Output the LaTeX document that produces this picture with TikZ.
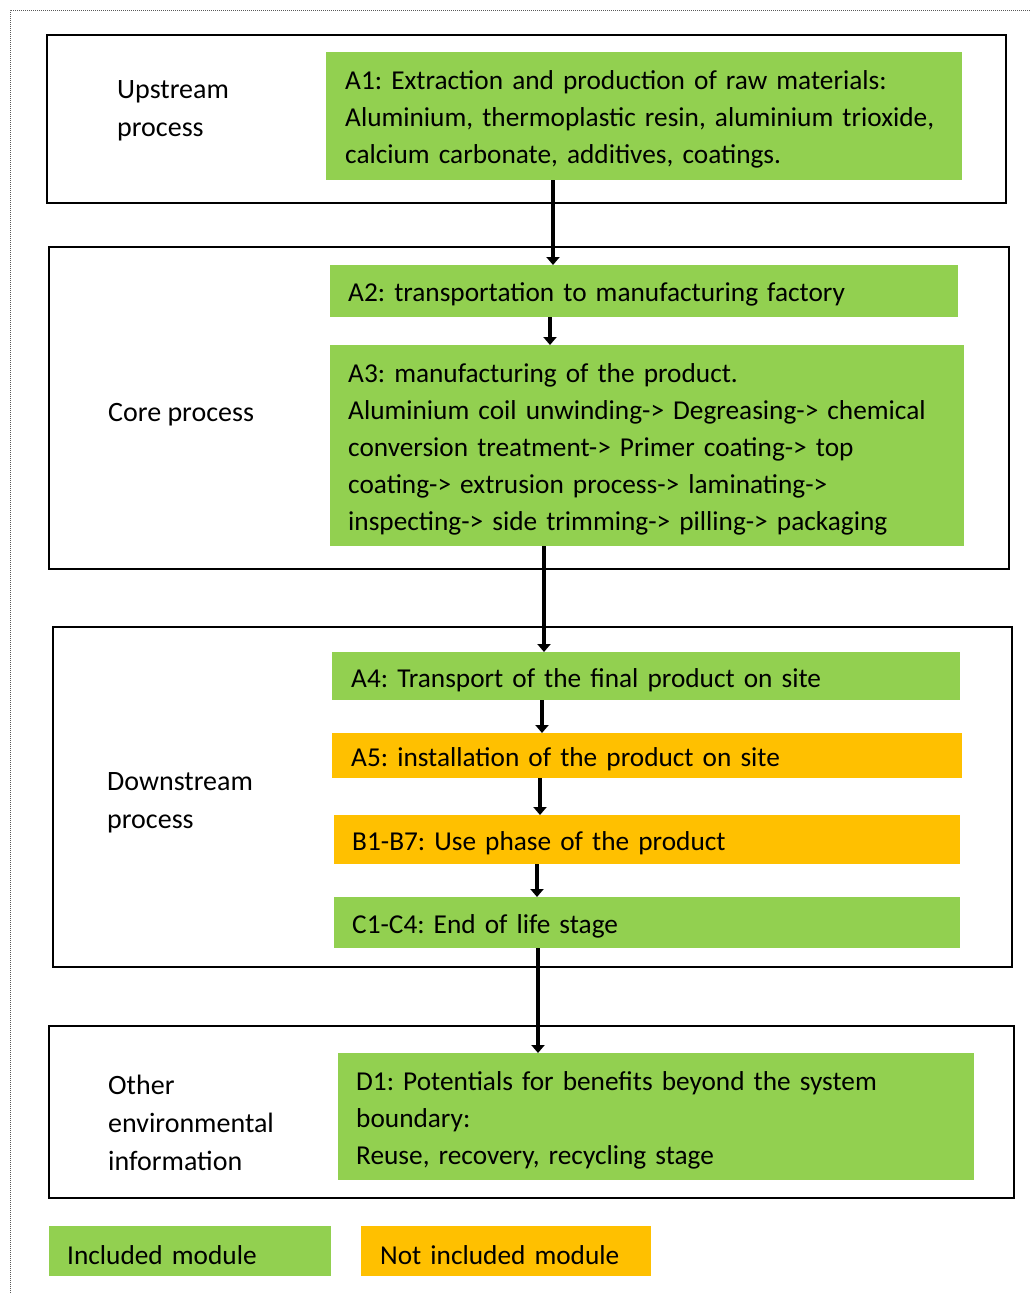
\documentclass[tikz,border=0pt]{standalone}
\usepackage{fontspec}
\setmainfont{Carlito}
\usetikzlibrary{arrows.meta}
\definecolor{incl}{HTML}{92D050}
\definecolor{notincl}{HTML}{FFC000}
\tikzset{
  frame/.style={draw=black, line width=1.5pt, anchor=north west, inner sep=0pt},
  modbox/.style={anchor=north west, inner xsep=19pt, inner ysep=0pt, align=left,
     font=\fontsize{27.3}{37}\selectfont, execute at begin node={\rule{0pt}{26pt}}},
  inclbox/.style={modbox, fill=incl},
  notbox/.style={modbox, fill=notincl},
  lbl/.style={anchor=west, align=left, inner sep=0pt, font=\fontsize{28}{38}\selectfont},
  arr/.style={line width=4.5pt, -{Triangle[width=13pt,length=8pt]}},
}
\begin{document}
\frenchspacing
\begin{tikzpicture}[x=1pt,y=-1pt]
\useasboundingbox (0,0) rectangle (1033,1293);
\draw[gray!70!black, densely dotted, line width=1pt] (10,1293) -- (10,10) -- (1030,10);
% frames
\node[frame, minimum width=959pt, minimum height=168pt] (F1) at (46,34) {};
\node[frame, minimum width=960pt, minimum height=322pt] (F2) at (48,246) {};
\node[frame, minimum width=959pt, minimum height=340pt] (F3) at (52,626) {};
\node[frame, minimum width=965pt, minimum height=172pt] (F4) at (48,1025) {};
% labels
\node[lbl] (L1) at (117,111) {Upstream\\process};
\node[lbl] (L2) at (108,415) {Core process};
\node[lbl] (L3) at (107,803) {Downstream\\process};
\node[lbl] (L4) at (108,1123) {Other\\environmental\\information};
% modules
\node[inclbox, minimum height=128pt, text width=598pt] (A1) at (326,52)
  {A1: Extraction and production of raw materials:\\Aluminium, thermoplastic resin, aluminium trioxide,\\calcium carbonate, additives, coatings.};
\node[inclbox, minimum height=52pt, text width=592pt, inner xsep=18pt] (A2) at (330,265)
  {A2: transportation to manufacturing factory};
\node[inclbox, minimum height=201pt, text width=598pt, inner xsep=18pt] (A3) at (330,345)
  {A3: manufacturing of the product.\\Aluminium coil unwinding-> Degreasing-> chemical\\conversion treatment-> Primer coating-> top\\coating-> extrusion process-> laminating->\\inspecting-> side trimming-> pilling-> packaging};
\node[inclbox, minimum height=48pt, text width=590pt] (A4) at (332,652)
  {A4: Transport of the final product on site};
\node[notbox, minimum height=45pt, text width=592pt] (A5) at (332,733)
  {A5: installation of the product on site};
\node[notbox, minimum height=49pt, text width=590pt, inner xsep=18pt] (B1) at (334,815)
  {B1-B7: Use phase of the product};
\node[inclbox, minimum height=51pt, text width=590pt, inner xsep=18pt] (C1) at (334,897)
  {C1-C4: End of life stage};
\node[inclbox, minimum height=127pt, text width=600pt, inner xsep=18pt] (D1) at (338,1053)
  {D1: Potentials for benefits beyond the system\\boundary:\\Reuse, recovery, recycling stage};
% legend
\node[inclbox, minimum height=50pt, text width=246pt, inner xsep=18pt] (G1) at (49,1226)
  {Included module};
\node[notbox, minimum height=50pt, text width=252pt] (G2) at (361,1226)
  {Not included module};
% arrows
\coordinate (x1) at (553,0);
\coordinate (x2) at (550,0);
\coordinate (x3) at (544,0);
\coordinate (x4) at (542,0);
\coordinate (x5) at (540,0);
\coordinate (x6) at (537,0);
\coordinate (x7) at (538,0);
\draw[arr] (A1.south -| x1) -- (A2.north -| x1);
\draw[arr] (A2.south -| x2) -- (A3.north -| x2);
\draw[arr] (A3.south -| x3) -- (A4.north -| x3);
\draw[arr] (A4.south -| x4) -- (A5.north -| x4);
\draw[arr] (A5.south -| x5) -- (B1.north -| x5);
\draw[arr] (B1.south -| x6) -- (C1.north -| x6);
\draw[arr] (C1.south -| x7) -- (D1.north -| x7);
\end{tikzpicture}
\end{document}
